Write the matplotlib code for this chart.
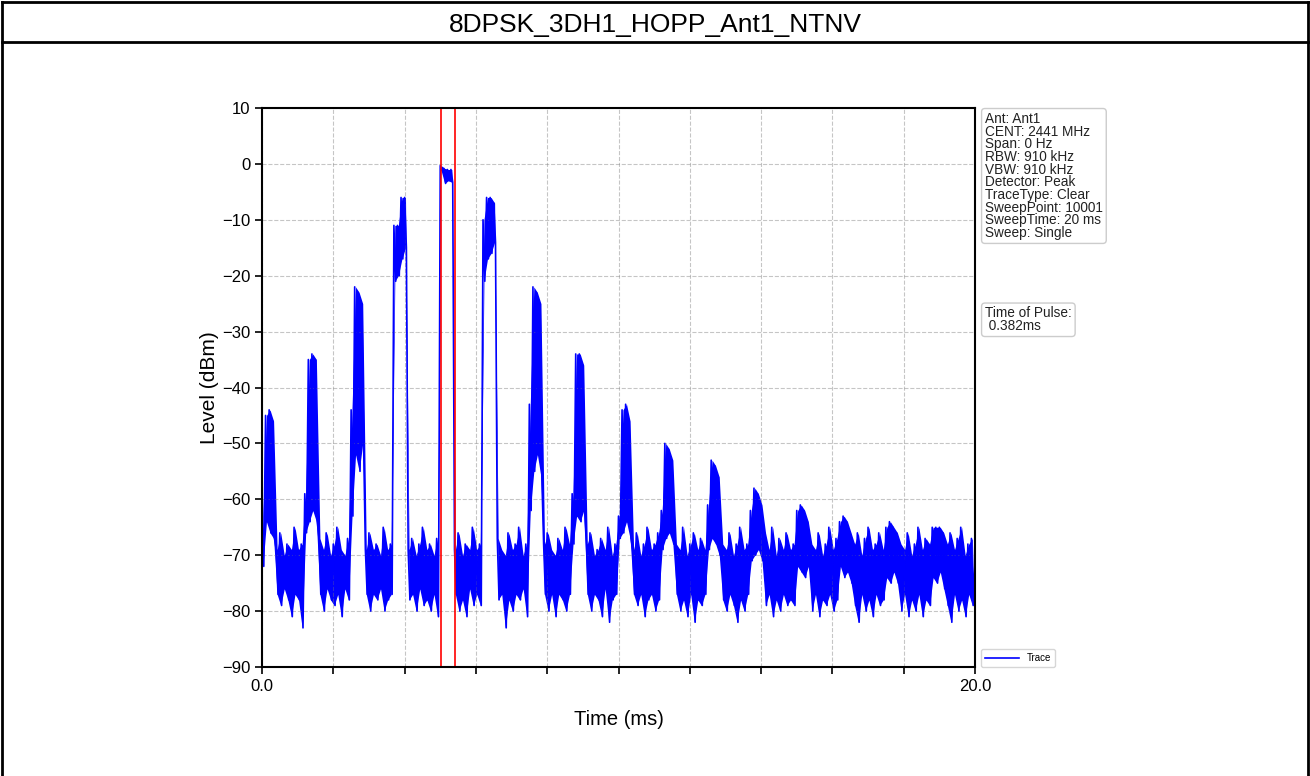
import numpy as np
import matplotlib.pyplot as plt
from matplotlib.lines import Line2D

plt.rcParams['font.family'] = ['Liberation Sans', 'DejaVu Sans']

# zero-span sweep, 20 ms; trace read from the picture as the upper / lower
# edge of the (very dense) trace in every 0.1 ms bin, in dBm
sweep_ms = 20.0
bin_ms = 0.1
trace_hi = [
    -63, -45, -44, -46, -69, -66, -70, -68, -69, -65,
    -69, -68, -59, -35, -34, -35, -67, -69, -66, -70,
    -68, -65, -69, -70, -67, -44, -22, -23, -25, -69,
    -66, -69, -68, -70, -65, -69, -68, -11, -11, -6,
    -6, -69, -67, -70, -68, -65, -69, -68, -70, -67,
    -0.3, -0.8, -1.0, -1.0, -69, -66, -70, -68, -69, -65,
    -69, -68, -10, -6, -6, -7, -67, -69, -70, -66,
    -69, -68, -65, -70, -68, -43, -22, -23, -25, -68,
    -66, -69, -70, -67, -69, -65, -68, -59, -34, -34,
    -36, -68, -66, -70, -69, -67, -69, -65, -70, -68,
    -63, -44, -43, -46, -69, -66, -70, -68, -65, -69,
    -68, -66, -62, -50, -51, -53, -68, -69, -65, -70,
    -68, -66, -69, -67, -69, -61, -53, -54, -56, -68,
    -69, -66, -70, -68, -65, -69, -68, -62, -58, -59,
    -61, -66, -69, -65, -70, -67, -69, -66, -69, -68,
    -62, -61, -62, -64, -68, -69, -66, -70, -68, -65,
    -69, -67, -64, -63, -64, -66, -68, -66, -70, -67,
    -65, -69, -68, -66, -69, -65, -64, -65, -66, -68,
    -69, -66, -70, -68, -65, -69, -67, -68, -65, -65,
    -65, -66, -68, -66, -69, -67, -65, -70, -68, -67,
]
trace_lo = [
    -72, -64, -66, -67, -77, -79, -76, -78, -81, -77,
    -78, -83, -66, -64, -62, -64, -77, -80, -76, -78,
    -79, -77, -81, -76, -78, -63, -52, -55, -50, -77,
    -80, -77, -78, -76, -80, -78, -77, -21, -20, -17,
    -15, -78, -77, -80, -76, -79, -78, -80, -77, -81,
    -1.2, -3.5, -3.0, -3.3, -77, -80, -78, -81, -76, -79,
    -77, -79, -21, -17, -16, -14, -78, -77, -83, -78,
    -80, -77, -78, -76, -81, -62, -55, -52, -56, -77,
    -80, -77, -81, -77, -78, -80, -77, -68, -63, -64,
    -62, -77, -80, -77, -78, -81, -76, -82, -78, -77,
    -67, -66, -64, -67, -77, -79, -77, -81, -78, -77,
    -80, -78, -69, -67, -66, -68, -77, -80, -78, -81,
    -77, -82, -78, -79, -77, -69, -67, -68, -70, -78,
    -80, -77, -79, -82, -78, -80, -77, -71, -70, -69,
    -71, -79, -77, -81, -78, -80, -77, -79, -78, -79,
    -72, -73, -74, -72, -80, -77, -81, -78, -79, -77,
    -80, -78, -72, -74, -73, -75, -79, -82, -77, -80,
    -78, -81, -77, -79, -78, -74, -75, -73, -75, -80,
    -77, -81, -78, -80, -77, -81, -78, -79, -74, -75,
    -73, -76, -79, -82, -77, -80, -78, -81, -77, -79,
]
marker_ms = [5.03, 5.412]

title = '8DPSK_3DH1_HOPP_Ant1_NTNV'
info_lines = ['Ant: Ant1', 'CENT: 2441 MHz', 'Span: 0 Hz', 'RBW: 910 kHz',
              'VBW: 910 kHz', 'Detector: Peak', 'TraceType: Clear',
              'SweepPoint: 10001', 'SweepTime: 20 ms', 'Sweep: Single']
pulse_text = 'Time of Pulse:\n 0.382ms'

# upper edge at the start of each bin, lower edge half a bin later
t0 = np.arange(len(trace_hi)) * bin_ms
x = np.column_stack([t0, t0 + bin_ms / 2]).ravel()
y = np.column_stack([trace_hi, trace_lo]).ravel()
x = np.append(x, sweep_ms)
y = np.append(y, trace_hi[-1])

fig = plt.figure(figsize=(13.1, 7.76), dpi=100)
ax = fig.add_axes([262 / 1310, 1 - 667 / 776, 713 / 1310, 559 / 776])

# dense trace: envelope filled, trace drawn on top
ax.fill_between(t0 + bin_ms / 4, trace_hi, trace_lo, color='blue', lw=0)
ax.plot(x, y, color='blue', lw=1.2, label='Trace')
for m in marker_ms:
    ax.axvline(m, color='red', lw=1.2)

ax.set_xlim(0, sweep_ms)
ax.set_ylim(-90, 10)
ax.set_xticks(np.arange(0, 21, 2))
ax.set_xticklabels(['0.0'] + [''] * 9 + ['20.0'])
ax.set_yticks(np.arange(-90, 11, 10))
ax.tick_params(labelsize=12, length=5, width=1.2, direction='out')
ax.grid(True, linestyle='--', color='grey', alpha=0.45, lw=0.8)
for s in ax.spines.values():
    s.set_linewidth(1.5)

ax.set_xlabel('Time (ms)', fontsize=14.5, labelpad=12)
ax.set_ylabel('Level (dBm)', fontsize=15, labelpad=2)

box = dict(boxstyle='round,pad=0.25', facecolor='white', edgecolor='#cccccc', lw=1)
ax.text(1.014, 0.993, '\n'.join(info_lines), transform=ax.transAxes,
        va='top', ha='left', fontsize=9.8, linespacing=0.88, color='#222222', bbox=box)
ax.text(1.014, 0.645, pulse_text, transform=ax.transAxes,
        va='top', ha='left', fontsize=9.8, linespacing=0.88, color='#222222', bbox=box)
ax.legend(loc='lower left', bbox_to_anchor=(1.008, 0.0), borderaxespad=0,
          fontsize=7, handlelength=3.5, fancybox=True, edgecolor='#cccccc')

# report frame around the chart
fig.text(0.5, 1 - 25 / 776, title, ha='center', va='center', fontsize=19)
for seg in [([2 / 1310, 2 / 1310], [0, 1 - 2 / 776]),
            ([1 - 2 / 1310, 1 - 2 / 1310], [0, 1 - 2 / 776]),
            ([2 / 1310, 1 - 2 / 1310], [1 - 2 / 776, 1 - 2 / 776]),
            ([2 / 1310, 1 - 2 / 1310], [1 - 42 / 776, 1 - 42 / 776])]:
    fig.add_artist(Line2D(seg[0], seg[1], color='black', lw=2))

fig.savefig('out.png', dpi=100)
